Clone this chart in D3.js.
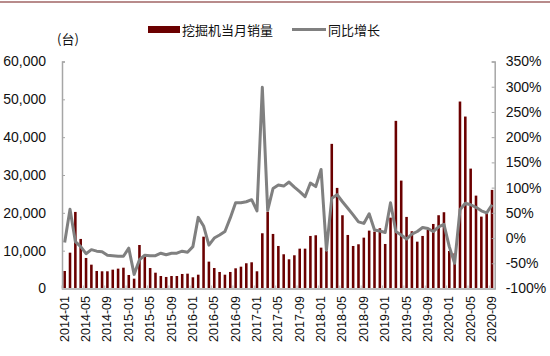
<!DOCTYPE html>
<html>
<head>
<meta charset="utf-8">
<script src="https://cdn.jsdelivr.net/npm/d3@7"></script>
<style>
  body { margin: 0; background: #fff; }
  svg { display: block; }
</style>
</head>
<body>
<svg id="chart" width="550" height="356"></svg>
<script>
// ---- data ----
const startYear = 2014, startMonth = 1;
const sales = [
  4630, 9470, 20240, 13100, 8070, 6300, 4630, 4550, 4550, 4980, 5250, 5500,
  3570, 2600, 11500, 8400, 5420, 4180, 3300, 3050, 3300, 3300, 3840, 3920,
  2960, 3650, 13700, 7100, 5420, 4370, 3650, 4370, 5340, 5770, 6670, 6930,
  4550, 14600, 20320, 14420, 11240, 9050, 7720, 8780, 10530, 10530, 13890, 14070,
  10800, 9920, 38230, 26590, 19360, 14150, 11240, 11690, 13440, 15300, 15030, 15920,
  11770, 18730, 44310, 28520, 18920, 15130, 12380, 13890, 15480, 17060, 19370, 20160,
  9920, 9300, 49420, 45450, 31690, 24550, 19000, 19890, 26060
];
const yoy = [
  -9, 57, -7, -17, -31, -23, -26, -27, -34, -35, -36, -36,
  -20, -72, -43, -34, -35, -35, -30, -33, -30, -30, -26, -28,
  -17, 41, 24, -14, 0, 6, 13, 40, 70, 70, 72, 76,
  54, 299, 55, 98, 105, 103, 111, 101, 92, 82, 109, 102,
  136, -24, 79, 86, 72, 59, 46, 32, 29, 48, 16, 14,
  11, 70, 13, 6, -2, 8, 13, 21, 19, 13, 22, 27,
  -17, -50, 56, 69, 66, 61, 54, 50, 66
];
const months = sales.map((_, i) => {
  const m = startMonth - 1 + i;
  const y = startYear + Math.floor(m / 12);
  return y + "-" + String(m % 12 + 1).padStart(2, "0");
});
const leftTicks = [0, 10000, 20000, 30000, 40000, 50000, 60000];
const rightTicks = [-100, -50, 0, 50, 100, 150, 200, 250, 300, 350];
const seriesNames = ["挖掘机当月销量", "同比增长"];
const unitLabel = "(台)";

// ---- layout ----
const svg = d3.select("#chart");
const L = 62, R = 494.7, T = 61.5, B = 288.5;
const barColor = "#6b0000", lineColor = "#808080", axisColor = "#a6a6a6";
const numFont = "'Liberation Sans', Arial, sans-serif";
const cjkFont = "'Noto Sans CJK SC', sans-serif";

// top rule
svg.append("line").attr("x1", 0).attr("x2", 550).attr("y1", 2).attr("y2", 2)
  .attr("stroke", "#a06464").attr("stroke-width", 1.5);

const x = d3.scaleBand().domain(d3.range(months.length)).range([L, R]).paddingInner(0.52).paddingOuter(0.26);
const yL = d3.scaleLinear().domain([0, 60000]).range([B, T]);
const yR = d3.scaleLinear().domain([-100, 350]).range([B, T]);

// bars
svg.append("g").selectAll("rect").data(sales).join("rect")
  .attr("x", (d, i) => x(i))
  .attr("width", x.bandwidth())
  .attr("y", d => yL(d))
  .attr("height", d => B - yL(d))
  .attr("fill", barColor);

// left axis
const axL = svg.append("g").attr("transform", `translate(${L},0)`)
  .call(d3.axisLeft(yL).tickValues(leftTicks).tickSize(-3).tickPadding(16).tickFormat(d3.format(",")));
axL.select(".domain").attr("stroke", axisColor).attr("stroke-width", 1.5);
axL.selectAll(".tick line").attr("stroke", axisColor);
axL.selectAll("text").attr("font-family", numFont).attr("font-size", 14).attr("fill", "#111");

// right axis
const axR = svg.append("g").attr("transform", `translate(${R},0)`)
  .call(d3.axisRight(yR).tickValues(rightTicks).tickSize(-3).tickPadding(11).tickFormat(d => d + "%"));
axR.select(".domain").attr("stroke", axisColor).attr("stroke-width", 1.5);
axR.selectAll(".tick line").attr("stroke", axisColor);
axR.selectAll("text").attr("font-family", numFont).attr("font-size", 14).attr("fill", "#111");

// bottom axis
svg.append("line").attr("x1", L).attr("x2", R).attr("y1", B + 0.5).attr("y2", B + 0.5)
  .attr("stroke", "#bbbbbb").attr("stroke-width", 2);
const step = x.step();
const tickIdx = d3.range(0, months.length + 1, 4);
svg.append("g").selectAll("line").data(tickIdx).join("line")
  .attr("x1", i => L + i * step).attr("x2", i => L + i * step)
  .attr("y1", B).attr("y2", B - 3)
  .attr("stroke", "#bbbbbb");

// x labels
svg.append("g").selectAll("text").data(d3.range(0, months.length, 4)).join("text")
  .attr("transform", i => `translate(${x(i) + x.bandwidth() / 2 + 4},296) rotate(-90)`)
  .attr("text-anchor", "end")
  .attr("font-family", numFont).attr("font-size", 12.5).attr("fill", "#111")
  .text(i => months[i]);

// line
const line = d3.line().x((d, i) => x(i) + x.bandwidth() / 2).y(d => yR(d));
svg.append("path").datum(yoy).attr("d", line)
  .attr("fill", "none").attr("stroke", lineColor).attr("stroke-width", 3)
  .attr("stroke-linejoin", "round");

// unit label
svg.append("text").attr("x", 57).attr("y", 44).attr("font-family", cjkFont)
  .attr("font-size", 13).attr("fill", "#111").text(unitLabel);

// legend
const lg = svg.append("g");
lg.append("rect").attr("x", 148).attr("y", 26).attr("width", 32).attr("height", 7).attr("fill", barColor);
lg.append("text").attr("x", 182).attr("y", 34.5).attr("font-family", cjkFont).attr("font-size", 13)
  .attr("fill", "#111").text(seriesNames[0]);
lg.append("line").attr("x1", 292).attr("x2", 326).attr("y1", 29.5).attr("y2", 29.5)
  .attr("stroke", lineColor).attr("stroke-width", 3);
lg.append("text").attr("x", 328).attr("y", 34.5).attr("font-family", cjkFont).attr("font-size", 13)
  .attr("fill", "#111").text(seriesNames[1]);
</script>
</body>
</html>
